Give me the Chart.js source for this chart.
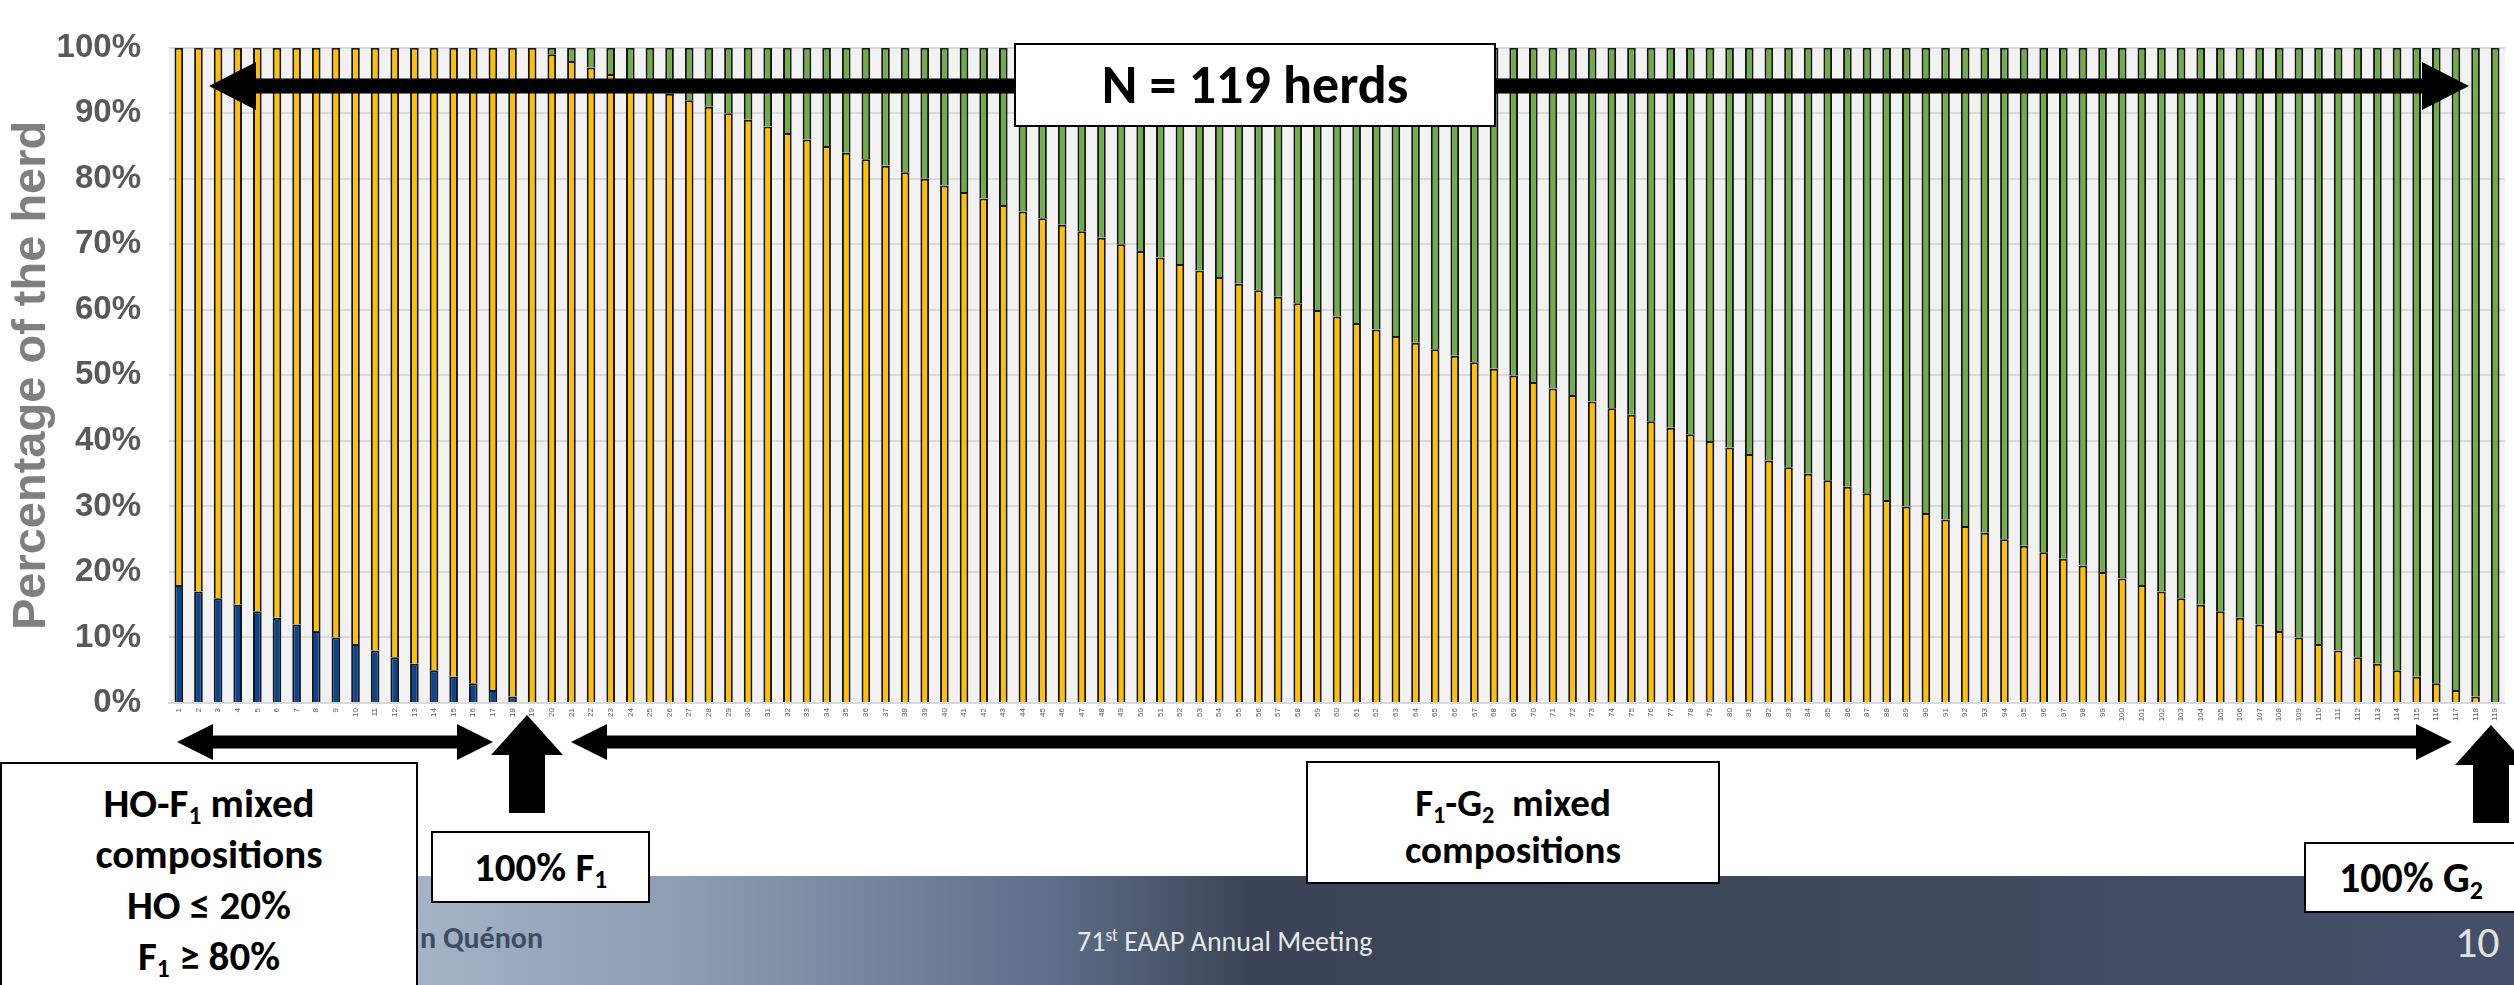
<!DOCTYPE html>
<html lang="en">
<head>
<meta charset="UTF-8">
<title>Breed composition of 119 herds</title>
<script src="https://cdn.jsdelivr.net/npm/chart.js"></script>
<style>
  html, body { margin: 0; padding: 0; background: #fff; }
  #page { position: relative; width: 2514px; height: 985px; overflow: hidden; font-family: Carlito, Lato, sans-serif; }
  #footer {
    position: absolute; left: 0; top: 876px; width: 2514px; height: 109px;
    background: linear-gradient(to right, #b8c5d6 0px, #a4b3c6 420px, #8b9bb1 700px, #5f6f89 1050px, #3a4456 1250px, #3d485b 1800px, #44506a 2514px);
  }
  #chart { position: absolute; left: 0; top: 0; }
  .box { position: absolute; background: #fff; border: 2px solid #000; box-sizing: border-box; font-weight: bold; color: #000; text-align: center; }
  .box sub, .ft sup { font-size: 0.62em; line-height: 0; }
  .box sub { vertical-align: -0.28em; }
  .ft { position: absolute; white-space: nowrap; }
</style>
</head>
<body>
<div id="page">
  <div id="footer"></div>
  <div class="ft" style="left:420px; top:920px; font-size:30px; line-height:36px; font-weight:bold; color:#3e4c63;">n Quénon</div>
  <div class="ft" style="left:1077px; top:925px; font-size:28px; line-height:34px; color:#e8e8e8;">71<sup>st</sup> EAAP Annual Meeting</div>
  <div class="ft" style="left:2455px; top:916px; font-size:44px; line-height:52px; color:#e0e0e0;">10</div>

  <canvas id="chart" width="2514" height="985"></canvas>

  <div class="box" style="left:1014px; top:43px; width:482px; height:84px; font-size:54px; line-height:80px;">N = 119 herds</div>
  <div class="box" style="left:0; top:762px; width:418px; height:240px; font-size:41px; line-height:51px; padding-top:14px;">
    HO-F<sub>1</sub> mixed<br>compositions<br>HO ≤ 20%<br>F<sub>1</sub> ≥ 80%
  </div>
  <div class="box" style="left:431px; top:831px; width:219px; height:72px; font-size:41px; line-height:68px;">100% F<sub>1</sub></div>
  <div class="box" style="left:1306px; top:761px; width:414px; height:123px; font-size:39px; line-height:47px; padding-top:16px;">
    F<sub>1</sub>-G<sub>2</sub>&nbsp; mixed<br>compositions
  </div>
  <div class="box" style="left:2304px; top:842px; width:214px; height:71px; font-size:42px; line-height:67px;">100% G<sub>2</sub></div>
</div>

<script>
// herd number (x axis tick labels)
const herdLabels = [
  1, 2, 3, 4, 5, 6, 7, 8, 9, 10, 11, 12, 13, 14, 15, 16, 17, 18, 19, 20,
  21, 22, 23, 24, 25, 26, 27, 28, 29, 30, 31, 32, 33, 34, 35, 36, 37, 38, 39, 40,
  41, 42, 43, 44, 45, 46, 47, 48, 49, 50, 51, 52, 53, 54, 55, 56, 57, 58, 59, 60,
  61, 62, 63, 64, 65, 66, 67, 68, 69, 70, 71, 72, 73, 74, 75, 76, 77, 78, 79, 80,
  81, 82, 83, 84, 85, 86, 87, 88, 89, 90, 91, 92, 93, 94, 95, 96, 97, 98, 99, 100,
  101, 102, 103, 104, 105, 106, 107, 108, 109, 110, 111, 112, 113, 114, 115, 116, 117, 118, 119
];

// % of the herd - HO (blue)
const hoPct = [
  18, 17, 16, 15, 14, 13, 12, 11, 10, 9, 8, 7, 6, 5, 4, 3, 2, 1, 0, 0,
  0, 0, 0, 0, 0, 0, 0, 0, 0, 0, 0, 0, 0, 0, 0, 0, 0, 0, 0, 0,
  0, 0, 0, 0, 0, 0, 0, 0, 0, 0, 0, 0, 0, 0, 0, 0, 0, 0, 0, 0,
  0, 0, 0, 0, 0, 0, 0, 0, 0, 0, 0, 0, 0, 0, 0, 0, 0, 0, 0, 0,
  0, 0, 0, 0, 0, 0, 0, 0, 0, 0, 0, 0, 0, 0, 0, 0, 0, 0, 0, 0,
  0, 0, 0, 0, 0, 0, 0, 0, 0, 0, 0, 0, 0, 0, 0, 0, 0, 0, 0
];

// % of the herd - F1 (yellow)
const f1Pct = [
  82, 83, 84, 85, 86, 87, 88, 89, 90, 91, 92, 93, 94, 95, 96, 97, 98, 99, 100, 99,
  98, 97, 96, 95, 94, 93, 92, 91, 90, 89, 88, 87, 86, 85, 84, 83, 82, 81, 80, 79,
  78, 77, 76, 75, 74, 73, 72, 71, 70, 69, 68, 67, 66, 65, 64, 63, 62, 61, 60, 59,
  58, 57, 56, 55, 54, 53, 52, 51, 50, 49, 48, 47, 46, 45, 44, 43, 42, 41, 40, 39,
  38, 37, 36, 35, 34, 33, 32, 31, 30, 29, 28, 27, 26, 25, 24, 23, 22, 21, 20, 19,
  18, 17, 16, 15, 14, 13, 12, 11, 10, 9, 8, 7, 6, 5, 4, 3, 2, 1, 0
];

// % of the herd - G2 (green)
const g2Pct = [
  0, 0, 0, 0, 0, 0, 0, 0, 0, 0, 0, 0, 0, 0, 0, 0, 0, 0, 0, 1,
  2, 3, 4, 5, 6, 7, 8, 9, 10, 11, 12, 13, 14, 15, 16, 17, 18, 19, 20, 21,
  22, 23, 24, 25, 26, 27, 28, 29, 30, 31, 32, 33, 34, 35, 36, 37, 38, 39, 40, 41,
  42, 43, 44, 45, 46, 47, 48, 49, 50, 51, 52, 53, 54, 55, 56, 57, 58, 59, 60, 61,
  62, 63, 64, 65, 66, 67, 68, 69, 70, 71, 72, 73, 74, 75, 76, 77, 78, 79, 80, 81,
  82, 83, 84, 85, 86, 87, 88, 89, 90, 91, 92, 93, 94, 95, 96, 97, 98, 99, 100
];

const yTicks = [0, 10, 20, 30, 40, 50, 60, 70, 80, 90, 100];

Chart.defaults.font.family = '"Liberation Sans", Arial, sans-serif';

// light grey plot area like the excel chart
const plotBg = {
  id: 'plotBg',
  beforeDraw(chart) {
    const { ctx, chartArea: a } = chart;
    ctx.save();
    ctx.fillStyle = '#f2f2f2';
    ctx.fillRect(a.left, a.top, a.right - a.left, a.bottom - a.top);
    ctx.restore();
  }
};

function hArrow(ctx, x1, x2, y, shaft, headLen, headHalf) {
  const s = shaft / 2;
  ctx.beginPath();
  ctx.moveTo(x1, y);
  ctx.lineTo(x1 + headLen, y - headHalf);
  ctx.lineTo(x1 + headLen, y - s);
  ctx.lineTo(x2 - headLen, y - s);
  ctx.lineTo(x2 - headLen, y - headHalf);
  ctx.lineTo(x2, y);
  ctx.lineTo(x2 - headLen, y + headHalf);
  ctx.lineTo(x2 - headLen, y + s);
  ctx.lineTo(x1 + headLen, y + s);
  ctx.lineTo(x1 + headLen, y + headHalf);
  ctx.closePath();
  ctx.fill();
}

function upArrow(ctx, x, yTip, yEnd, shaftHalf, headLen, headHalf) {
  ctx.beginPath();
  ctx.moveTo(x, yTip);
  ctx.lineTo(x + headHalf, yTip + headLen);
  ctx.lineTo(x + shaftHalf, yTip + headLen);
  ctx.lineTo(x + shaftHalf, yEnd);
  ctx.lineTo(x - shaftHalf, yEnd);
  ctx.lineTo(x - shaftHalf, yTip + headLen);
  ctx.lineTo(x - headHalf, yTip + headLen);
  ctx.closePath();
  ctx.fill();
}

const arrows = {
  id: 'arrows',
  afterDraw(chart) {
    const ctx = chart.ctx;
    ctx.save();
    ctx.fillStyle = '#000';
    hArrow(ctx, 209, 2469, 86, 15, 47, 24);
    hArrow(ctx, 177, 493, 742, 13, 36, 18);
    hArrow(ctx, 571, 2452, 742, 13, 36, 18);
    upArrow(ctx, 527, 715, 813, 18, 40, 36);
    upArrow(ctx, 2491, 725, 823, 18, 40, 36);
    ctx.restore();
  }
};

const barStyle = { borderColor: '#141414', borderWidth: 2, barPercentage: 0.44, categoryPercentage: 1 };

new Chart(document.getElementById('chart'), {
  type: 'bar',
  data: {
    labels: herdLabels.map(String),
    datasets: [
      { label: 'HO', data: hoPct.map(v => v || null), backgroundColor: '#0b4591', ...barStyle },
      { label: 'F1', data: f1Pct.map(v => v || null), backgroundColor: '#ffc000', ...barStyle },
      { label: 'G2', data: g2Pct.map(v => v || null), backgroundColor: '#70ad47', ...barStyle }
    ]
  },
  options: {
    responsive: false,
    animation: false,
    layout: { padding: { top: 23, right: 9, left: 0, bottom: 0 } },
    plugins: { legend: { display: false }, tooltip: { enabled: false } },
    scales: {
      x: {
        stacked: true,
        grid: { display: false, drawTicks: false },
        border: { color: '#d9d9d9', width: 2 },
        ticks: { autoSkip: false, minRotation: 90, maxRotation: 90, font: { size: 8 }, color: '#595959', padding: 5 },
        afterFit(scale) { scale.height = 282; }
      },
      y: {
        stacked: true,
        min: 0,
        max: 100,
        afterBuildTicks(scale) { scale.ticks = yTicks.map(v => ({ value: v })); },
        ticks: { callback: v => v + '%', font: { size: 33, weight: 'bold' }, color: '#595959', padding: 28 },
        grid: { color: '#d9d9d9', lineWidth: 2, drawTicks: false },
        border: { display: false },
        title: { display: true, text: 'Percentage of the herd', font: { size: 47, weight: 'bold' }, color: '#7f7f7f', padding: { top: 4, bottom: 0 } },
        afterFit(scale) { scale.width = 169; }
      }
    }
  },
  plugins: [plotBg, arrows]
});
</script>
</body>
</html>
